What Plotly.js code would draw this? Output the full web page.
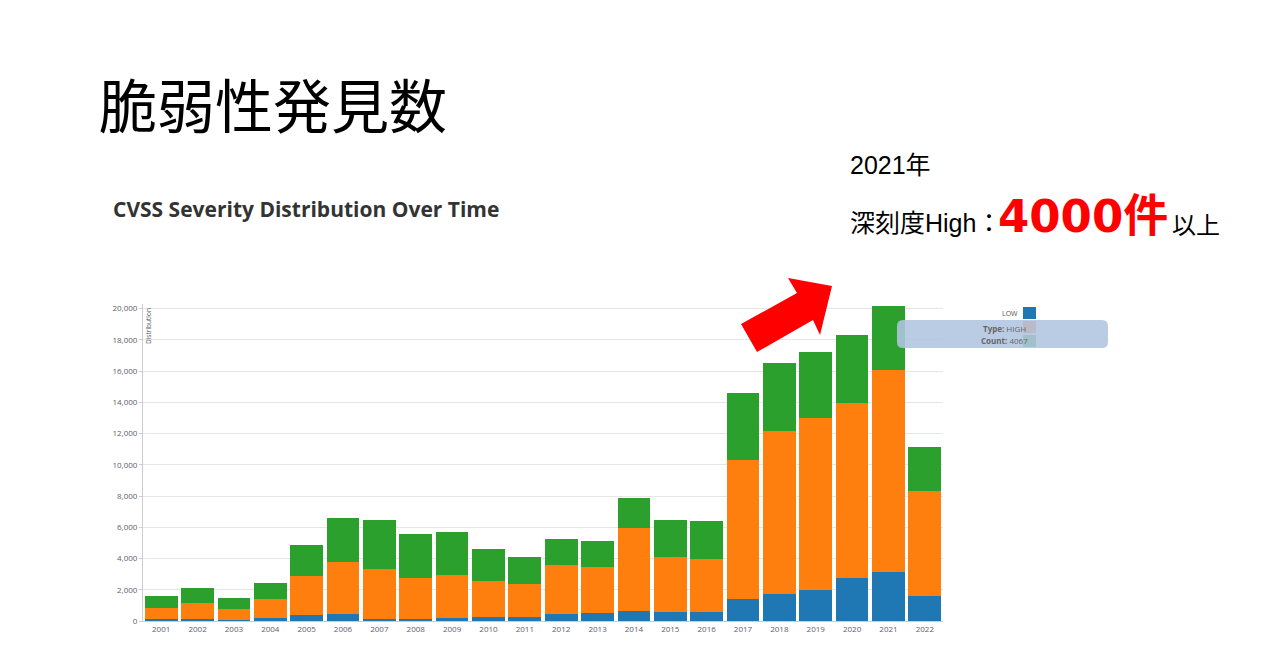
<!DOCTYPE html>
<html>
<head>
<meta charset="utf-8">
<script src="https://cdn.plot.ly/plotly-3.0.1.min.js"></script>
<style>
html,body{margin:0;padding:0;background:#fff;}
#chart{width:1280px;height:658px;}
</style>
</head>
<body>
<div id="chart"></div>
<script>
const years = ["2001","2002","2003","2004","2005","2006","2007","2008","2009","2010","2011","2012","2013","2014","2015","2016","2017","2018","2019","2020","2021","2022"];
const lowCounts    = [130, 100, 50, 200, 400, 450, 150, 150, 170, 250, 250, 450, 500, 650, 570, 590, 1400, 1730, 1990, 2760, 3140, 1600];
const mediumCounts = [700, 1050, 720, 1200, 2480, 3350, 3180, 2600, 2780, 2310, 2120, 3140, 2960, 5310, 3530, 3380, 8920, 10450, 11020, 11210, 12950, 6730];
const highCounts   = [770, 950, 700, 1030, 1990, 2800, 3150, 2830, 2750, 2060, 1730, 1660, 1670, 1920, 2370, 2430, 4300, 4360, 4230, 4360, 4067, 2820];
const yTicks = [0, 2000, 4000, 6000, 8000, 10000, 12000, 14000, 16000, 18000, 20000];

// plot area in page pixels
const L = 143, R = 943, T = 304, B = 621;
const W = 1280, H = 658;
const px = x => (x - L) / (R - L);
const py = y => (B - y) / (B - T);

const colors = {LOW: "#1f77b4", MEDIUM: "#ff7f0e", HIGH: "#2ca02c"};

const traces = [
  {name: "LOW", x: years, y: lowCounts, type: "bar", marker: {color: colors.LOW}},
  {name: "MEDIUM", x: years, y: mediumCounts, type: "bar", marker: {color: colors.MEDIUM}},
  {name: "HIGH", x: years, y: highCounts, type: "bar", marker: {color: colors.HIGH}}
];

// arrow polygon (decoration) in page pixels
const arrowPts = [[741,324],[797,293],[788,278],[832,286],[820,335],[813,320],[757,352]];
const arrowPath = "M " + arrowPts.map(p => px(p[0]) + "," + py(p[1])).join(" L ") + " Z";

function rrect(x0, y0, x1, y1, r) {
  const P = (x, y) => px(x) + "," + py(y);
  return "M " + P(x0 + r, y0) + " L " + P(x1 - r, y0) + " Q " + P(x1, y0) + " " + P(x1, y0 + r) +
    " L " + P(x1, y1 - r) + " Q " + P(x1, y1) + " " + P(x1 - r, y1) +
    " L " + P(x0 + r, y1) + " Q " + P(x0, y1) + " " + P(x0, y1 - r) +
    " L " + P(x0, y0 + r) + " Q " + P(x0, y0) + " " + P(x0 + r, y0) + " Z";
}

const shapes = [
  {type: "rect", xref: "paper", yref: "paper", x0: px(1023), x1: px(1036), y0: py(319), y1: py(307), fillcolor: colors.LOW, line: {width: 0}},
  {type: "rect", xref: "paper", yref: "paper", x0: px(1023), x1: px(1036), y0: py(333), y1: py(321), fillcolor: colors.MEDIUM, line: {width: 0}},
  {type: "rect", xref: "paper", yref: "paper", x0: px(1023), x1: px(1036), y0: py(347), y1: py(335), fillcolor: colors.HIGH, line: {width: 0}},
  {type: "path", xref: "paper", yref: "paper", path: rrect(897, 320, 1108, 348, 6), fillcolor: "rgba(176,196,224,0.88)", line: {width: 0}},
  {type: "path", xref: "paper", yref: "paper", path: arrowPath, fillcolor: "#ff0000", line: {width: 0}}
];

const annotations = [
  {text: "脆弱性発見数", xref: "paper", yref: "paper", x: px(97), y: py(103), xanchor: "left", yanchor: "middle", showarrow: false,
   font: {family: "Noto Sans CJK JP", size: 58, color: "#000"}},
  {text: "<b>CVSS Severity Distribution Over Time</b>", xref: "paper", yref: "paper", x: px(111), y: py(209), xanchor: "left", yanchor: "middle", showarrow: false,
   font: {family: "Open Sans", size: 21, color: "#333"}},
  {text: "2021年", xref: "paper", yref: "paper", x: px(848), y: py(165), xanchor: "left", yanchor: "middle", showarrow: false,
   font: {family: "Liberation Sans, Noto Sans CJK JP", size: 25, color: "#000"}},
  {text: "深刻度High：", xref: "paper", yref: "paper", x: px(848), y: py(223), xanchor: "left", yanchor: "middle", showarrow: false,
   font: {family: "Liberation Sans, Noto Sans CJK JP", size: 25, color: "#000"}},
  {text: "<b>4000件</b>", xref: "paper", yref: "paper", x: px(996), y: py(216), xanchor: "left", yanchor: "middle", showarrow: false,
   font: {family: "DejaVu Sans, Noto Sans CJK JP", size: 45, color: "#ff0000"}},
  {text: "以上", xref: "paper", yref: "paper", x: px(1170), y: py(223), xanchor: "left", yanchor: "middle", showarrow: false,
   font: {family: "Noto Sans CJK JP", size: 24, color: "#000"}},
  {text: "Distribution", xref: "paper", yref: "paper", x: px(148), y: py(326), xanchor: "center", yanchor: "middle", textangle: -90, showarrow: false,
   font: {family: "Open Sans", size: 6.5, color: "#555"}},
  {text: "LOW", xref: "paper", yref: "paper", x: px(1020), y: py(313), xanchor: "right", yanchor: "middle", showarrow: false,
   font: {family: "Open Sans", size: 7, color: "#555"}},
  {text: "<b>Type:</b> HIGH", xref: "paper", yref: "paper", x: px(1004), y: py(328), xanchor: "center", yanchor: "middle", showarrow: false,
   font: {family: "Open Sans", size: 8, color: "#666"}},
  {text: "<b>Count:</b> 4067", xref: "paper", yref: "paper", x: px(1004), y: py(340), xanchor: "center", yanchor: "middle", showarrow: false,
   font: {family: "Open Sans", size: 8, color: "#666"}}
];

const layout = {
  width: W, height: H,
  margin: {l: L, r: W - R, t: T, b: H - B, pad: 0},
  paper_bgcolor: "#fff", plot_bgcolor: "#fff",
  barmode: "stack", bargap: 0.1,
  showlegend: false,
  xaxis: {type: "category", range: [-0.5, years.length - 0.5], showgrid: false, showline: true, linecolor: "#ccc", linewidth: 1,
          ticks: "", tickfont: {family: "Open Sans", size: 8, color: "#5a6070"}, fixedrange: true},
  yaxis: {range: [0, 20300], tickvals: yTicks, tickformat: ",d", showgrid: true, gridcolor: "#e6e6e6", gridwidth: 1,
          showline: true, linecolor: "#ccc", linewidth: 1, ticks: "outside", ticklen: 3, tickcolor: "#ccc",
          zeroline: false, tickfont: {family: "Open Sans", size: 8, color: "#5a6070"}, fixedrange: true},
  shapes: shapes,
  annotations: annotations,
  hovermode: false
};

Plotly.newPlot("chart", traces, layout, {staticPlot: true, displayModeBar: false});
</script>
</body>
</html>
